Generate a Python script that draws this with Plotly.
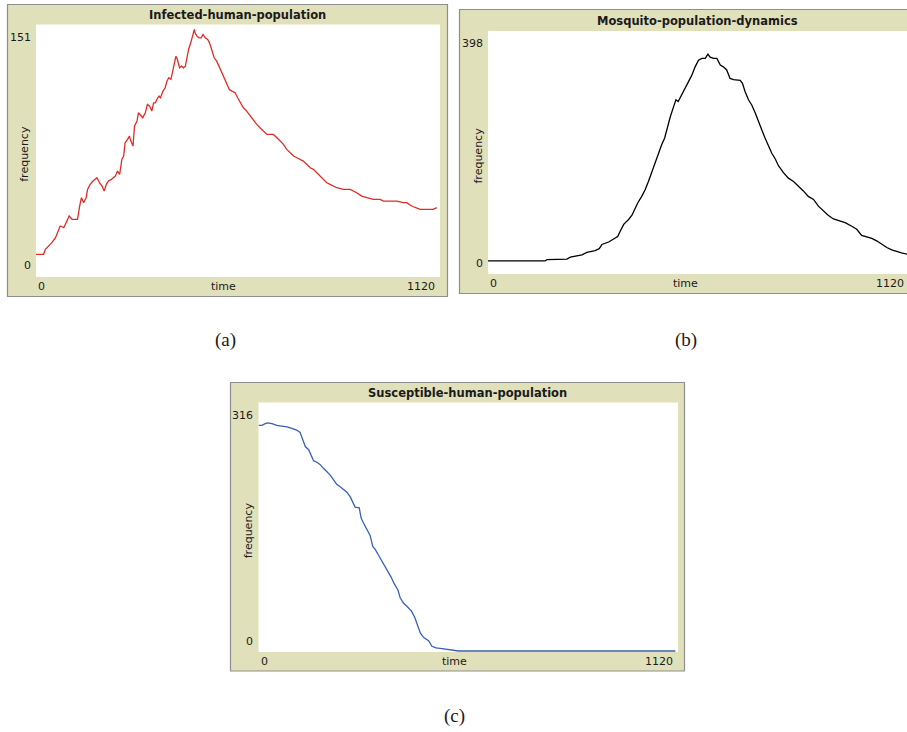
import plotly.graph_objects as go

W, H = 907, 732

# ---------------- data ----------------
infected_time = [0, 21, 26, 35, 44, 54, 63, 67, 77, 86, 92, 100, 115, 121, 126, 132, 139, 143, 150, 158,
                 169, 176, 183, 189, 195, 201, 209, 220, 226, 232, 238, 243, 247, 254, 259, 263, 269, 273,
                 280, 284, 289, 296, 303, 309, 315, 321, 326, 331, 335, 341, 345, 352, 358, 363, 368, 374,
                 379, 383, 388, 392, 398, 403, 409, 414, 418, 423, 429, 434, 439, 441, 446, 452, 458, 463,
                 469, 476, 481, 487, 494, 501, 509, 515, 522, 529, 536, 543, 552, 559, 566, 575, 584, 594,
                 603, 612, 621, 631, 640, 649, 658, 668, 677, 686, 695, 704, 714, 723, 732, 741, 751, 760,
                 769, 778, 787, 797, 806, 815, 824, 834, 852, 871, 889, 903, 917, 935, 954, 963, 981, 1000,
                 1018, 1028, 1041, 1055, 1065, 1083, 1101, 1111]
infected_count = [13, 13, 16, 18, 20, 23, 28, 30, 29, 33, 36, 34, 34, 42, 47, 44, 47, 52, 55, 57,
                  59, 56, 54, 51, 55, 57, 58, 60, 63, 61, 70, 72, 80, 82, 84, 81, 78, 90,
                  93, 98, 97, 95, 98, 103, 102, 99, 104, 104, 106, 108, 107, 111, 113, 117, 119, 118,
                  123, 127, 132, 130, 125, 126, 125, 126, 131, 136, 140, 145, 148, 146, 144, 143, 143, 145,
                  143, 142, 140, 136, 131, 129, 125, 122, 119, 115, 112, 111, 110, 107, 104, 101, 99, 96,
                  94, 91, 89, 87, 85, 85, 85, 83, 81, 79, 76, 74, 72, 71, 70, 69, 67, 65,
                  64, 62, 60, 58, 56, 55, 54, 53, 52, 52, 50, 48, 47, 46, 46, 45, 45, 45,
                  44, 44, 42, 41, 40, 40, 40, 41]

mosquito_time = [0, 152, 157, 210, 219, 232, 250, 263, 285, 296, 303, 321, 334, 345, 352, 361, 374, 383,
                 392, 399, 409, 418, 427, 436, 445, 454, 462, 470, 476, 485, 494, 500, 506, 515, 524, 533,
                 542, 551, 560, 569, 578, 585, 591, 600, 609, 618, 626, 635, 644, 653, 662, 671, 677, 684,
                 693, 702, 711, 719, 728, 737, 746, 755, 764, 773, 786, 799, 812, 826, 839, 852, 866, 879,
                 892, 905, 919, 932, 950, 968, 981, 994, 1007, 1021, 1034, 1047, 1061, 1074, 1087, 1100, 1115]
mosquito_count = [20, 20, 22, 23, 26, 28, 30, 34, 37, 40, 47, 51, 56, 60, 69, 80, 88, 95,
                  107, 116, 126, 137, 151, 167, 181, 197, 211, 222, 238, 257, 274, 285, 282, 293, 304, 315,
                  325, 339, 350, 353, 353, 360, 355, 353, 353, 342, 339, 334, 320, 318, 317, 317, 312, 298,
                  285, 276, 263, 249, 236, 222, 208, 197, 188, 176, 165, 156, 151, 143, 135, 126, 121, 110,
                  102, 95, 89, 86, 83, 77, 72, 62, 60, 57, 53, 47, 42, 38, 35, 33, 31]

susceptible_time = [0, 9, 18, 25, 36, 49, 62, 76, 89, 102, 111, 118, 125, 134, 141, 147, 156, 165, 174,
                    183, 191, 200, 209, 218, 227, 236, 245, 251, 258, 269, 274, 280, 289, 298, 305, 312,
                    319, 328, 337, 345, 354, 363, 372, 378, 387, 396, 408, 417, 426, 432, 441, 454, 463,
                    474, 490, 507, 516, 534, 1113]
susceptible_count = [287, 287, 289, 290, 289, 287, 286, 285, 283, 281, 278, 270, 260, 256, 249, 242, 240, 237,
                     232, 228, 224, 218, 212, 209, 205, 202, 196, 190, 183, 182, 169, 163, 154, 147, 133,
                     129, 123, 116, 108, 101, 94, 85, 78, 68, 61, 57, 51, 43, 32, 23, 17, 13, 6,
                     4, 3, 2, 1, 0, 0]

titles = ["Infected-human-population", "Mosquito-population-dynamics", "Susceptible-human-population"]
x_min_labels = ["0", "0", "0"]
x_max_labels = ["1120", "1120", "1120"]
y_min_labels = ["0", "0", "0"]
y_max_labels = ["151", "398", "316"]
x_axis_title = "time"
y_axis_title = "frequency"
captions = ["(a)", "(b)", "(c)"]
x_max = 1120
y_max = [151, 398, 316]
series = [(infected_time, infected_count), (mosquito_time, mosquito_count),
          (susceptible_time, susceptible_count)]

# ---------------- styling / layout ----------------
BEIGE = "rgb(224,224,186)"
FRAME_LINE = "#8e8e8e"
TXT = "#1a1a1a"
line_colors = ["rgb(222,45,38)", "rgb(0,0,0)", "rgb(55,95,185)"]

# pixel geometry: frame box, white plot box, time-label x, caption position
panels = [
    dict(frame=(7.5, 4.5, 447.5, 296.5), white=(36, 24.5, 440, 277), white_right_true=440,
         title_xy=(237.5, 15), freq_x=25, time_x=223, cap=(225, 340)),
    dict(frame=(459.5, 9.5, 915, 293.5), white=(488, 31, 907, 274), white_right_true=909,
         title_xy=(697.5, 21), freq_x=478, time_x=685, cap=(686, 340)),
    dict(frame=(230.5, 382.5, 684.5, 671), white=(258.5, 402.5, 678, 652), white_right_true=678,
         title_xy=(467.5, 393), freq_x=248, time_x=455, cap=(455, 716)),
]


def fx(x):
    return x / W


def fy(y):
    return 1 - y / H


fig = go.Figure()
shapes = []
annotations = []
font_small = dict(family="DejaVu Sans", size=11, color=TXT)

for i, p in enumerate(panels):
    n = "" if i == 0 else str(i + 1)
    xa, ya = "x" + n, "y" + n
    fl, ft, fr, fb = p["frame"]
    wl, wt, wr, wb = p["white"]
    wr_true = p["white_right_true"]
    shapes.append(dict(type="rect", xref="paper", yref="paper", x0=fx(fl), x1=fx(fr), y0=fy(fb), y1=fy(ft),
                       fillcolor=BEIGE, line=dict(color=FRAME_LINE, width=1.2), layer="below"))
    shapes.append(dict(type="rect", xref="paper", yref="paper", x0=fx(wl), x1=fx(wr), y0=fy(wb), y1=fy(wt),
                       fillcolor="white", line=dict(width=0), layer="below"))

    # x range: the white area may be cut by the image edge (panel b)
    xr_hi = x_max * (wr - wl) / (wr_true - wl)
    ylo = -0.004 * y_max[i]
    axis_common = dict(showgrid=False, zeroline=False, showticklabels=False, ticks="", showline=False,
                       fixedrange=True)
    fig.update_layout(**{
        ("xaxis" + n): dict(domain=[fx(wl), fx(wr)], range=[0, xr_hi], anchor=ya, **axis_common),
        ("yaxis" + n): dict(domain=[fy(wb), fy(wt)], range=[ylo, y_max[i]], anchor=xa, **axis_common),
    })

    t, v = series[i]
    fig.add_trace(go.Scatter(x=t, y=v, mode="lines", xaxis=xa, yaxis=ya,
                             line=dict(color=line_colors[i], width=1.3), showlegend=False,
                             hoverinfo="skip"))

    # title
    annotations.append(dict(text=titles[i], xref="paper", yref="paper", x=fx(p["title_xy"][0]),
                            y=fy(p["title_xy"][1]), showarrow=False, xanchor="center", yanchor="middle",
                            font=dict(family="DejaVu Sans", size=11.5, color=TXT, weight="bold")))
    # y tick labels
    annotations.append(dict(text=y_max_labels[i], xref="paper", yref=ya, x=fx(wl - 3), y=y_max[i],
                            yshift=-13, showarrow=False, xanchor="right", yanchor="middle", font=font_small))
    annotations.append(dict(text=y_min_labels[i], xref="paper", yref=ya, x=fx(wl - 3), y=0,
                            yshift=10, showarrow=False, xanchor="right", yanchor="middle", font=font_small))
    # x tick labels (placed at the x-axis ends)
    lab_y = fy((wb + fb) / 2 - 0.5)
    annotations.append(dict(text=x_min_labels[i], xref="paper", yref="paper", x=fx(wl), y=lab_y,
                            showarrow=False, xanchor="left", yanchor="middle", font=font_small))
    annotations.append(dict(text=x_max_labels[i], xref="paper", yref="paper", x=fx(wr_true - 3), y=lab_y,
                            showarrow=False, xanchor="right", yanchor="middle", font=font_small))
    # axis names
    annotations.append(dict(text=x_axis_title, xref="paper", yref="paper", x=fx(p["time_x"]), y=lab_y,
                            showarrow=False, xanchor="center", yanchor="middle", font=font_small))
    annotations.append(dict(text=y_axis_title, xref="paper", yref="paper", x=fx(p["freq_x"]),
                            y=fy((wt + wb) / 2 + 3), textangle=-90, showarrow=False, xanchor="center",
                            yanchor="middle", font=font_small))
    # caption
    annotations.append(dict(text=captions[i], xref="paper", yref="paper", x=fx(p["cap"][0]),
                            y=fy(p["cap"][1]), showarrow=False, xanchor="center", yanchor="middle",
                            font=dict(family="Liberation Serif", size=19, color=TXT)))

fig.update_layout(width=W, height=H, margin=dict(l=0, r=0, t=0, b=0, pad=0),
                  paper_bgcolor="white", plot_bgcolor="rgba(0,0,0,0)",
                  shapes=shapes, annotations=annotations, showlegend=False)

fig.write_html("out.html", config={"displayModeBar": False})
